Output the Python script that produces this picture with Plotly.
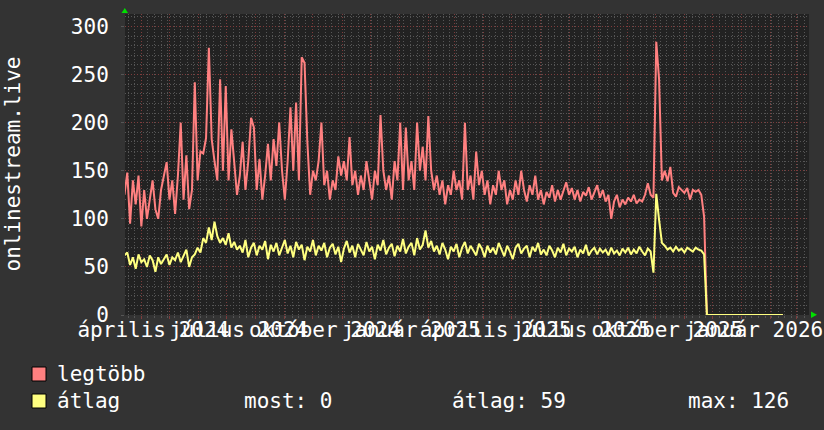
import plotly.graph_objects as go
import pandas as pd

# ---------------- data ----------------
start_date = "2024-03-14"
step = "3D"

legtobb = [
    125, 148, 95, 140, 115, 145, 92, 130, 100, 120,
    140, 110, 100, 130, 145, 159, 120, 140, 105, 145,
    200, 120, 166, 110, 130, 242, 140, 170, 168, 184,
    278, 183, 160, 140, 245, 150, 238, 140, 193, 157,
    125, 145, 180, 130, 160, 205, 195, 130, 162, 120,
    145, 178, 140, 183, 155, 200, 150, 120, 160, 216,
    150, 221, 140, 268, 262, 180, 125, 150, 140, 160,
    200, 135, 150, 120, 140, 130, 165, 145, 160, 140,
    185, 135, 150, 125, 145, 130, 160, 140, 120, 150,
    135, 208, 150, 130, 145, 120, 160, 140, 200, 130,
    195, 140, 160, 130, 200, 150, 175, 140, 207, 150,
    130, 145, 125, 140, 115, 135, 125, 150, 130, 140,
    120, 200, 130, 145, 120, 170, 135, 150, 125, 140,
    115, 135, 125, 150, 130, 140, 115, 130, 120, 140,
    125, 150, 130, 118, 135, 125, 145, 120, 130, 115,
    128, 122, 135, 118, 130, 120, 128, 138, 125, 132,
    120, 130, 118, 128, 124, 133, 120, 128, 135, 122,
    130, 118, 125, 100, 118, 125, 112, 120, 115, 122,
    118, 125, 116, 120, 118, 125, 137, 125, 122, 284,
    245, 140, 150, 139, 154, 127, 123, 133, 130, 127,
    132, 120, 130, 128, 130, 125, 102,
    0, 0, 0, 0, 0, 0, 0, 0, 0, 0,
    0, 0, 0, 0, 0, 0, 0, 0, 0, 0,
    0, 0, 0, 0, 0, 0, 0, 0,
]

atlag = [
    62, 65, 52, 60, 48, 63, 55, 58, 50, 62,
    57, 45, 60, 53, 58, 63, 52, 60, 57, 65,
    55, 62, 68, 50, 60, 63,
    70, 65, 80, 75, 91, 78, 97, 82, 75, 80, 73, 85, 70, 76, 68,
    72, 65, 78, 60, 70, 75, 62, 72, 68, 77, 58, 73, 66, 75, 62, 70, 78, 64, 72, 60,
    76, 68, 73, 57, 71, 66, 78, 62, 72, 67, 75, 60, 70, 74, 63, 71, 55, 69, 77, 65,
    72, 60, 74, 68, 62, 76, 66, 71, 58, 73, 67, 78, 63, 70, 74, 61, 72, 66, 79, 64,
    71, 75, 62, 80, 68, 73, 88, 70, 77, 66,
    72, 63, 75, 68, 58, 71, 66, 74, 60, 70, 76, 64, 72, 67, 62, 74, 69, 60, 72, 65,
    70, 63, 75, 68, 61, 72, 66, 58, 70, 74, 64, 69, 72, 60, 71, 66, 75, 63, 68, 62,
    72, 67, 60, 70, 65, 74, 62, 69, 66, 71, 60, 68, 64, 73, 62, 67, 70, 63, 69, 65,
    68, 62, 70, 64, 67, 62, 69, 65, 70, 63, 68, 64, 71, 66, 62, 69, 66,
    44, 126, 99, 75,
    72, 68, 70, 66, 71, 67, 69, 65, 70, 68, 66, 70, 68, 67, 63,
    0, 0, 0, 0, 0, 0, 0, 0, 0, 0,
    0, 0, 0, 0, 0, 0, 0, 0, 0, 0,
    0, 0, 0, 0, 0, 0, 0, 0,
]

month_starts = list(pd.date_range("2024-04-01", "2026-03-01", freq="MS"))
label_months = {
    (2024, 4): "április 2024",
    (2024, 7): "július 2024",
    (2024, 10): "október 2024",
    (2025, 1): "január 2025",
    (2025, 4): "április 2025",
    (2025, 7): "július 2025",
    (2025, 10): "október 2025",
    (2026, 1): "január 2026",
}
y_title = "onlinestream.live"
series_names = ["legtöbb", "átlag"]
stat_texts = ["most: 0", "átlag: 59", "max: 126"]

# ---------------- figure ----------------
RED = "#ff8080"
YEL = "#ffff80"
MAJOR = "#7e3c3c"
MINOR = "#565656"
FONT = "DejaVu Sans Mono"

dates_r = pd.date_range(start_date, periods=len(legtobb), freq=step)
dates_y = pd.date_range(start_date, periods=len(atlag), freq=step)

fig = go.Figure()
fig.add_trace(go.Scatter(x=dates_r, y=legtobb, mode="lines",
                         line=dict(color=RED, width=2), name=series_names[0],
                         hoverinfo="skip"))
fig.add_trace(go.Scatter(x=dates_y, y=atlag, mode="lines",
                         line=dict(color=YEL, width=2), name=series_names[1],
                         hoverinfo="skip"))

L, R, T, B = 125, 15, 14, 115
W, H = 824, 430
PW, PH = W - L - R, H - T - B


def px_x(p):
    return (p - L) / PW


def px_y(p):
    return (H - B - p) / PH


ticktext = [label_months.get((d.year, d.month), "") for d in month_starts]

fig.update_layout(
    width=W, height=H, autosize=False,
    margin=dict(l=L, r=R, t=T, b=B, pad=0, autoexpand=False),
    paper_bgcolor="#333333",
    plot_bgcolor="#222222",
    font=dict(family=FONT, size=21, color="#ffffff"),
    showlegend=False,
    xaxis=dict(
        type="date",
        range=["2024-03-14 14:00", "2026-03-13 20:00"],
        tickmode="array", tickvals=month_starts, ticktext=ticktext,
        tickangle=0, ticklabelshift=12, ticklabeloverflow="allow",
        ticklabelstandoff=-7, automargin=False,
        ticks="outside", ticklen=3, tickcolor=MAJOR,
        showgrid=True, gridcolor=MAJOR, griddash="1px,2px", gridwidth=1,
        minor=dict(dtick=7 * 86400000, tick0="2024-04-01", showgrid=True,
                   gridcolor=MINOR, griddash="1px,2px", gridwidth=1,
                   ticks="outside", ticklen=2, tickcolor=MINOR),
        showline=False, zeroline=False, fixedrange=True,
    ),
    yaxis=dict(
        range=[0, 313], tick0=0, dtick=50, automargin=False,
        ticks="outside", ticklen=3, tickcolor=MINOR, ticklabelstandoff=8,
        showgrid=True, gridcolor=MAJOR, griddash="1px,2px", gridwidth=1,
        minor=dict(dtick=10, showgrid=True, gridcolor=MINOR,
                   griddash="1px,2px", gridwidth=1),
        showline=False, zeroline=False, fixedrange=True,
    ),
)

# y-axis title
fig.add_annotation(text=y_title, textangle=-90, x=px_x(12), y=0.5,
                   xref="paper", yref="paper", xanchor="center",
                   yanchor="middle", showarrow=False)

# legend
fig.add_shape(type="rect", xref="paper", yref="paper",
              x0=px_x(32), x1=px_x(46), y0=px_y(367), y1=px_y(381),
              fillcolor=RED, line=dict(color="#000000", width=1))
fig.add_shape(type="rect", xref="paper", yref="paper",
              x0=px_x(32), x1=px_x(46), y0=px_y(394), y1=px_y(408),
              fillcolor=YEL, line=dict(color="#000000", width=1))
fig.add_annotation(text=series_names[0], x=px_x(55), y=px_y(374),
                   xref="paper", yref="paper", xanchor="left",
                   yanchor="middle", showarrow=False)
fig.add_annotation(text=series_names[1], x=px_x(55), y=px_y(401),
                   xref="paper", yref="paper", xanchor="left",
                   yanchor="middle", showarrow=False)
for txt, px in zip(stat_texts, [242, 450, 686]):
    fig.add_annotation(text=txt, x=px_x(px), y=px_y(401),
                       xref="paper", yref="paper", xanchor="left",
                       yanchor="middle", showarrow=False)

# green axis arrows
fig.add_shape(type="path", xref="paper", yref="paper",
              path=f"M {px_x(121.5)},{px_y(13)} L {px_x(128)},{px_y(13)} "
                   f"L {px_x(124.8)},{px_y(8)} Z",
              fillcolor="#00e000", line=dict(color="#00e000", width=0))
fig.add_shape(type="path", xref="paper", yref="paper",
              path=f"M {px_x(811)},{px_y(311.5)} L {px_x(811)},{px_y(318)} "
                   f"L {px_x(817)},{px_y(314.7)} Z",
              fillcolor="#00e000", line=dict(color="#00e000", width=0))

fig.write_html(
    "out.html",
    config={"displayModeBar": False, "responsive": False},
    post_script=(
        "document.body.style.margin='0px';"
        "document.body.style.overflow='hidden';"
        "var gd=document.getElementById('{plot_id}');"
        "Plotly.relayout(gd,{width:824,height:430});"
    ),
)
